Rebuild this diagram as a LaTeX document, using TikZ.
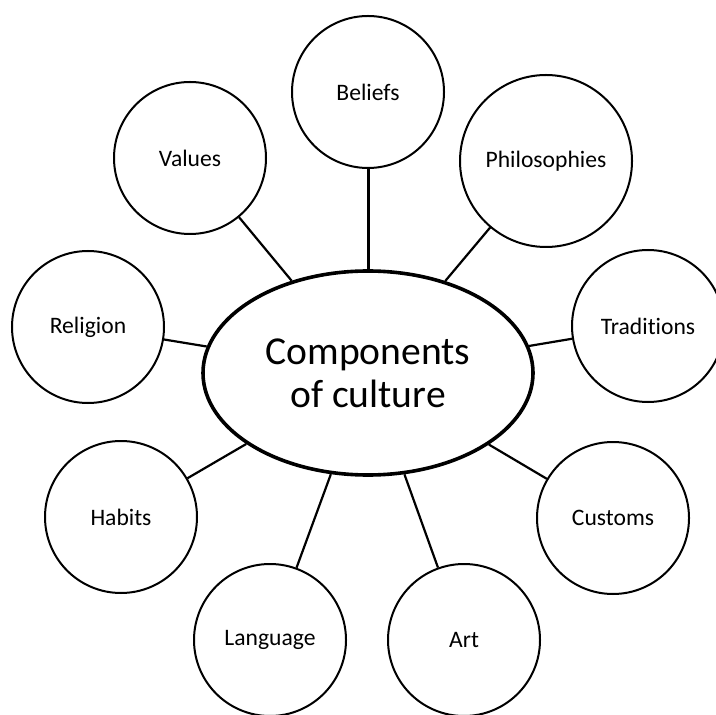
\documentclass[tikz,border=0pt]{standalone}
\usepackage{fontspec}
\setmainfont[Ligatures={NoCommon,NoContextual,NoRare}]{Carlito}
\usetikzlibrary{shapes.geometric}

\begin{document}
\begin{tikzpicture}[x=0.5pt,y=-0.5pt,
    topic/.style={draw,circle,line width=1pt,minimum size=76pt,inner sep=0pt,
        font=\fontsize{11.8}{14}\selectfont},
    hub/.style={draw,ellipse,line width=1.8pt,minimum width=165pt,minimum height=102pt,
        inner sep=0pt,align=center,font=\fontsize{19.8}{21.5}\selectfont},
    link/.style={line width=1.1pt}]
    \useasboundingbox (0,0) rectangle (716,715);
    \node[hub] (0) at (368,373)
            {Components\\of culture};
    \node[topic] (1) at (368,92)
            {Beliefs};
    \node[topic,minimum size=86pt] (2) at (546,161)
            {Philosophies};
    \node[topic] (3) at (648,326)
            {Traditions};
    \node[topic] (4) at (613,518)
            {Customs};
    \node[topic] (5) at (464,640)
            {Art};
    \node[topic] (6) at (270,640)
            {Language};
    \node[topic] (7) at (121,517)
            {Habits};
    \node[topic] (8) at (88,327)
            {Religion};
    \node[topic] (9) at (190,158)
            {Values};
    \draw[link,line width=1.5pt] (0) -- (1);
    \draw[link] (0) -- (2);
    \draw[link] (0) -- (3);
    \draw[link] (0) -- (4);
    \draw[link] (0) -- (5);
    \draw[link] (0) -- (6);
    \draw[link] (0) -- (7);
    \draw[link] (0) -- (8);
    \draw[link] (0) -- (9);
\end{tikzpicture}
\end{document}
